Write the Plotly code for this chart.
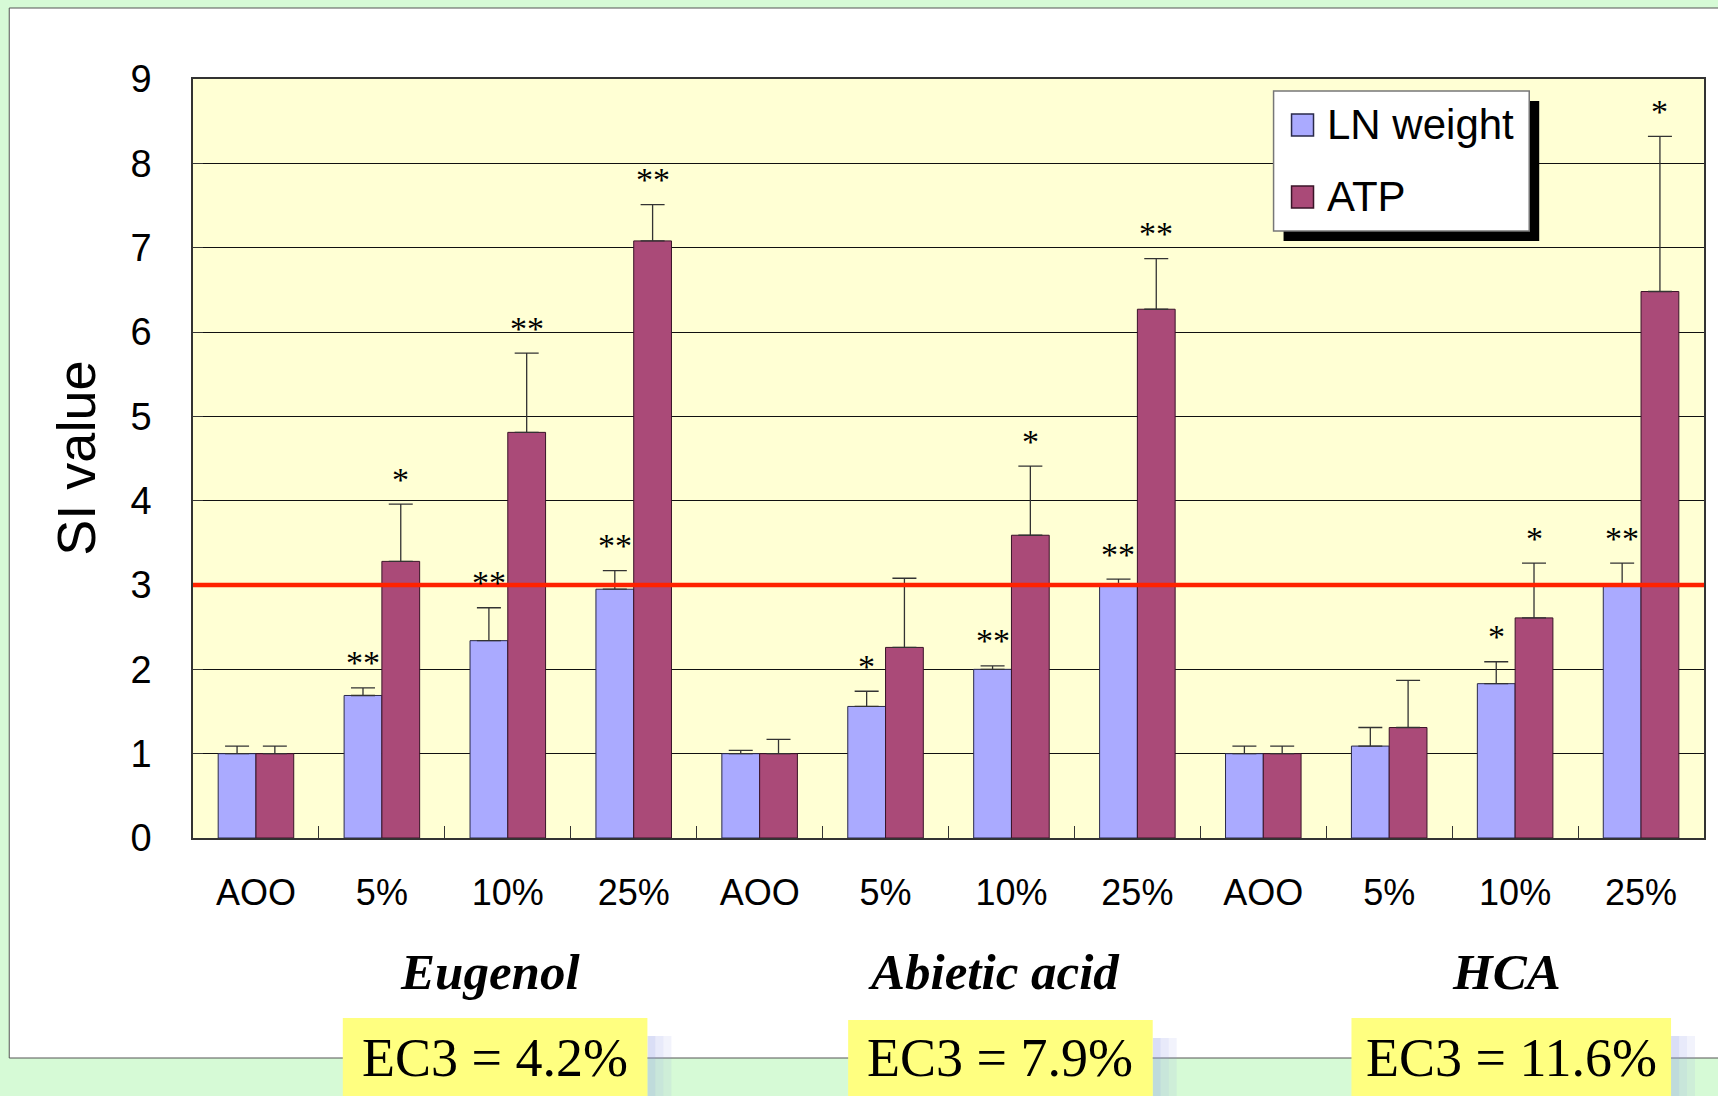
import plotly.graph_objects as go

# ---------------- data ----------------
doses = ["AOO", "5%", "10%", "25%", "AOO", "5%", "10%", "25%", "AOO", "5%", "10%", "25%"]
groups = ["Eugenol", "Abietic acid", "HCA"]
ec3_labels = ["EC3 = 4.2%", "EC3 = 7.9%", "EC3 = 11.6%"]
series_names = ["LN weight", "ATP"]

ln_values = [1.0, 1.69, 2.34, 2.95, 1.0, 1.56, 2.0, 3.0, 1.0, 1.09, 1.83, 3.01]
ln_errors = [0.09, 0.09, 0.39, 0.22, 0.04, 0.18, 0.04, 0.07, 0.09, 0.22, 0.26, 0.25]
atp_values = [1.0, 3.28, 4.81, 7.08, 1.0, 2.26, 3.59, 6.27, 1.0, 1.31, 2.61, 6.48]
atp_errors = [0.09, 0.68, 0.94, 0.43, 0.17, 0.82, 0.82, 0.60, 0.09, 0.56, 0.65, 1.84]

ln_sig = ["", "**", "**", "**", "", "*", "**", "**", "", "", "*", "**"]
atp_sig = ["", "*", "**", "**", "", "", "*", "**", "", "", "*", "*"]

threshold = 3

# ---------------- styling ----------------
W, H = 1718, 1096
ML, MR, MT, MB = 193, 12, 79, 258
PW, PH = W - ML - MR, H - MT - MB

LN_COLOR = "#AAAAFF"
ATP_COLOR = "#AA4A78"
PLOT_BG = "#FFFFD4"
PAGE_BG = "#D6FAD6"


def px_x(px):
    return (px - ML) / PW


def px_y(py):
    return (H - MB - py) / PH


xs = list(range(len(doses)))

fig = go.Figure()
fig.add_trace(go.Bar(
    x=xs, y=ln_values, name=series_names[0], showlegend=False,
    marker=dict(color=LN_COLOR, line=dict(color="#2a2a4a", width=1)),
    error_y=dict(type="data", symmetric=False, array=ln_errors,
                 arrayminus=[0] * len(ln_errors), color="#333333",
                 thickness=1.3, width=12),
))
fig.add_trace(go.Bar(
    x=xs, y=atp_values, name=series_names[1], showlegend=False,
    marker=dict(color=ATP_COLOR, line=dict(color="#3a1428", width=1)),
    error_y=dict(type="data", symmetric=False, array=atp_errors,
                 arrayminus=[0] * len(atp_errors), color="#333333",
                 thickness=1.3, width=12),
))

shapes = []
annotations = []

# white panel
shapes.append(dict(type="rect", xref="paper", yref="paper", layer="below",
                   x0=px_x(9), x1=px_x(1760), y0=px_y(1058), y1=px_y(8),
                   fillcolor="white", line=dict(color="#555555", width=1)))
# plot area background
shapes.append(dict(type="rect", xref="x domain", yref="y domain", layer="below",
                   x0=0, x1=1, y0=0, y1=1, fillcolor=PLOT_BG, line=dict(width=0)))
# threshold line
shapes.append(dict(type="line", xref="paper", yref="y", x0=0, x1=1,
                   y0=threshold, y1=threshold, layer="above",
                   line=dict(color="#FF2200", width=4.5)))

# significance marks
half = 0.15
for i in xs:
    for sig, vals, errs, off in ((ln_sig, ln_values, ln_errors, -half),
                                 (atp_sig, atp_values, atp_errors, half)):
        if sig[i]:
            annotations.append(dict(x=i + off, y=vals[i] + errs[i], xref="x", yref="y",
                                    text=sig[i], showarrow=False, yanchor="middle",
                                    yshift=25,
                                    font=dict(family="Liberation Serif", size=34, color="black")))

# group labels
group_px = [490, 995, 1508]
for g, gx in zip(groups, group_px):
    annotations.append(dict(x=px_x(gx), y=px_y(972), xref="paper", yref="paper",
                            text="<b><i>%s</i></b>" % g, showarrow=False,
                            xanchor="center", yanchor="middle",
                            font=dict(family="Liberation Serif", size=51, color="black")))

# EC3 boxes
boxes = [(343, 648), (849, 1154), (1353, 1673)]
box_tops = [1018, 1020, 1018]
for (bx0, bx1), bt, lab in zip(boxes, box_tops, ec3_labels):
    for k, alpha in enumerate((0.35, 0.22, 0.12)):
        shapes.append(dict(type="rect", xref="paper", yref="paper", layer="above",
                           x0=px_x(bx1 + 8 * k), x1=px_x(bx1 + 8 * (k + 1)),
                           y0=px_y(1100), y1=px_y(bt + 18),
                           fillcolor="rgba(150,160,230,%.2f)" % alpha, line=dict(width=0)))
    shapes.append(dict(type="rect", xref="paper", yref="paper", layer="above",
                       x0=px_x(bx0), x1=px_x(bx1), y0=px_y(1100), y1=px_y(bt),
                       fillcolor="#FFFF80", line=dict(width=0)))
    annotations.append(dict(x=px_x((bx0 + bx1) / 2), y=px_y(1058), xref="paper", yref="paper",
                            text=lab, showarrow=False, xanchor="center", yanchor="middle",
                            font=dict(family="Liberation Serif", size=54, color="black")))

# y axis title
annotations.append(dict(x=px_x(75), y=0.5, xref="paper", yref="paper", text="SI value",
                        textangle=-90, showarrow=False, xanchor="center", yanchor="middle",
                        font=dict(family="Liberation Sans", size=54, color="black")))

# manual legend with drop shadow
lx0, lx1, ly0, ly1 = 1275, 1531, 91, 231
shapes.append(dict(type="rect", xref="paper", yref="paper", layer="above",
                   x0=px_x(lx0 + 10), x1=px_x(lx1 + 10), y0=px_y(ly1 + 10), y1=px_y(ly0 + 10),
                   fillcolor="black", line=dict(width=0)))
shapes.append(dict(type="rect", xref="paper", yref="paper", layer="above",
                   x0=px_x(lx0), x1=px_x(lx1), y0=px_y(ly1), y1=px_y(ly0),
                   fillcolor="white", line=dict(color="#777777", width=1.5)))
for name, col, lc, cy in ((series_names[0], LN_COLOR, "#2a2a4a", 125),
                          (series_names[1], ATP_COLOR, "#3a1428", 197)):
    shapes.append(dict(type="rect", xref="paper", yref="paper", layer="above",
                       x0=px_x(1293), x1=px_x(1315), y0=px_y(cy + 11), y1=px_y(cy - 11),
                       fillcolor=col, line=dict(color=lc, width=1.5)))
    annotations.append(dict(x=px_x(1326), y=px_y(cy), xref="paper", yref="paper",
                            text=name, showarrow=False, xanchor="left", yanchor="middle",
                            font=dict(family="Liberation Sans", size=42, color="black")))

fig.update_layout(
    width=W, height=H,
    margin=dict(l=ML, r=MR, t=MT, b=MB, pad=0),
    paper_bgcolor=PAGE_BG,
    plot_bgcolor="rgba(0,0,0,0)",
    barmode="group", bargap=0.4, bargroupgap=0,
    shapes=shapes, annotations=annotations,
    font=dict(family="Liberation Sans", color="black"),
)
fig.update_xaxes(
    range=[-0.5, len(doses) - 0.5], tickmode="array", tickvals=xs, ticktext=doses,
    ticks="", showgrid=False, zeroline=False,
    showline=True, linecolor="#333333", linewidth=1.5, mirror=True,
    tickfont=dict(family="Liberation Sans", size=36, color="black"),
    ticklabelstandoff=22,
    minor=dict(tickmode="array", tickvals=[i + 0.5 for i in xs[:-1]],
               ticks="inside", ticklen=12, tickcolor="#333333", showgrid=False),
)
fig.update_yaxes(
    range=[0, 9], dtick=1, tick0=0,
    showgrid=True, gridcolor="#111111", gridwidth=1, zeroline=False,
    showline=True, linecolor="#333333", linewidth=1.5, mirror=True,
    ticks="inside", ticklen=10, tickcolor="#333333",
    tickfont=dict(family="Liberation Sans", size=38, color="black"),
    ticklabelstandoff=32,
)

fig.write_html(
    "out.html",
    config={"displayModeBar": False},
    post_script="document.body.style.margin='0';document.body.style.overflow='hidden';"
                "document.body.style.background='%s';" % PAGE_BG,
)
